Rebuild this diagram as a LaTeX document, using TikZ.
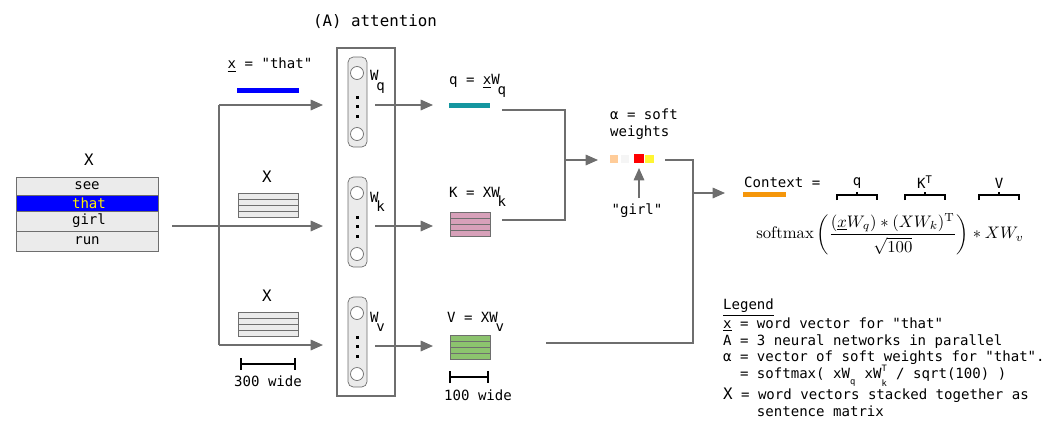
\documentclass[tikz,border=0pt]{standalone}
\usepackage{fontspec}
\usepackage{amsmath}
\setmonofont{DejaVu Sans Mono}
\usetikzlibrary{arrows.meta,calc}
\definecolor{lineg}{RGB}{110,110,110}
\definecolor{rowg}{RGB}{235,235,235}
\definecolor{qteal}{RGB}{20,150,160}
\definecolor{kpink}{RGB}{215,160,185}
\definecolor{vgreen}{RGB}{140,195,110}
\definecolor{ctxor}{RGB}{245,150,10}
\tikzset{
  conn/.style={draw=lineg, thick},
  arr/.style={conn, -{Triangle[length=7pt,width=6pt]}},
  lbl/.style={font=\ttfamily\footnotesize, inner sep=1pt},
  scalebar/.style={very thick, {Bar[width=7pt]}-{Bar[width=7pt]}},
}
\newcommand{\stackmat}[3]{% x, y top, fill
  \foreach \r in {0,1,2,3}
    \draw[lineg, fill=#3] (#1, #2+\r*6) rectangle ++(40, 6);
}
\newcommand{\lowsub}[1]{$_{\!\raisebox{-1ex}{\ttfamily\footnotesize #1}}$}
\begin{document}
\begin{tikzpicture}[x=0.02cm, y=-0.02cm]
\useasboundingbox (0,0) rectangle (1050,447);

% sentence matrix
\node[lbl, font=\ttfamily\small] (Xlab) at (89,160) {X};
\draw[lineg, fill=rowg] (16,177) rectangle (158,195);
\draw[lineg, fill=blue] (16,195) rectangle (158,211);
\draw[lineg, fill=rowg] (16,211) rectangle (158,231);
\draw[lineg, fill=rowg] (16,231) rectangle (158,251);
\node[lbl] (see) at (87,186) {see};
\node[lbl, text=yellow] (that) at (89,203) {that};
\node[lbl] (girl) at (89,221) {girl};
\node[lbl] (run) at (87,241) {run};

% attention block
\node[lbl, font=\ttfamily\small] (title) at (375,22) {(A) attention};
\draw[lineg, thick] (337,48) rectangle (395,396);
\foreach \t/\n in {57/q,177/k,297/v} {
  \draw[lineg, fill=rowg, rounded corners=3pt] (348,\t) rectangle (367,\t+90);
  \draw[lineg, fill=white] (357,\t+16) circle (6.5);
  \draw[lineg, fill=white] (357,\t+77) circle (6.5);
  \foreach \d in {40,49,59} \fill (355.5,\t+\d-1.5) rectangle ++(3,3);
  \node[lbl, anchor=west] (W\n) at (368,\t+25) {W\lowsub{\n}};
}
\coordinate (inq) at (323,105);
\coordinate (ink) at (323,226);
\coordinate (inv) at (323,345);
\coordinate (outq) at (375,105);
\coordinate (outk) at (375,226);
\coordinate (outv) at (375,346);

% inputs
\node[lbl] (xthat) at (270,65) {\underline{x} = "that"};
\fill[blue] (237,88) rectangle (299,93);
\node[lbl, font=\ttfamily\small] (Xk) at (267,177) {X};
\node[lbl, font=\ttfamily\small] (Xv) at (267,296) {X};
\foreach \r in {0,1,2,3} {
  \draw[lineg, fill=rowg] (238,193+\r*6) rectangle ++(60,6);
  \draw[lineg, fill=rowg] (238,312+\r*6) rectangle ++(60,6);
}
\draw[scalebar] (240,364) -- (296,364);
\node[lbl] (w300) at (268,381) {300 wide};
\draw[arr] (172,226) -- (ink);
\draw[conn] (219,105) -- (219,345);
\draw[arr] (219,105) -- (inq);
\draw[arr] (219,345) -- (inv);

% outputs
\draw[arr] (outq) -- (433,105);
\draw[arr] (outk) -- (433,226);
\draw[arr] (outv) -- (433,346);
\node[lbl, anchor=west] (q) at (447,86) {q = \underline{x}W\lowsub{q}};
\fill[qteal] (449,103) rectangle (490,108);
\node[lbl, anchor=west] (K) at (447,197) {K = XW\lowsub{k}};
\stackmat{450}{212}{kpink}
\node[lbl, anchor=west] (V) at (445,322) {V = XW\lowsub{v}};
\stackmat{450}{335}{vgreen}
\draw[scalebar] (449,377) -- (489,377);
\node[lbl] (w100) at (478,395) {100 wide};

% soft weights
\draw[conn] (502,110) -- (565,110) -- (565,220) -- (502,220);
\draw[arr] (565,160) -- (598,160);
\node[lbl, anchor=west, align=left] (alpha) at (608,124) {α = soft\\weights};
\fill[orange!40] (610,155) rectangle (618,163);
\fill[gray!8] (621,155) rectangle (629,163);
\fill[red] (634,154) rectangle (644,163);
\fill[yellow!80] (645,155) rectangle (654,163);
\node[lbl] (girlq) at (637,211) {"girl"};
\draw[arr] (639,198) -- (639,168);
\draw[conn] (665,160) -- (693,160) -- (693,343) -- (546,343);
\draw[arr] (693,193) -- (725,193);

% context formula
\node[lbl, anchor=west] (ctx) at (742,182) {Context =};
\fill[ctxor] (743,192) rectangle (786,197);
\foreach \a/\b/\t in {837/877/q,905/945/K$^{\text{T}}$,979/1019/V} {
  \draw[thick] (\a,200) -- (\a,195) -- (\b,195) -- (\b,200);
  \draw[thick] ({(\a+\b)/2},195) -- ({(\a+\b)/2},192);
  \node[lbl, anchor=south] at ({(\a+\b)/2},191) {\t};
}
\node[scale=0.95] (formula) at (890,234) {$\mathrm{softmax}\left(\dfrac{(\underline{x}W_q)*(XW_k)^{\mathrm{T}}}{\sqrt{100}}\right)*XW_v$};

% legend
\node[lbl, anchor=north west, align=left] (legend) at (721,297) {%
\underline{Legend}\\
\underline{x} = word vector for "that"\\
A = 3 neural networks in parallel\\
α = vector of soft weights for "that".\\
\ \ = softmax( xW$_{\raisebox{-0.6ex}{\ttfamily\tiny q}}$ xW$_{\raisebox{-0.6ex}{\ttfamily\tiny k}}^{\raisebox{0.3ex}{\ttfamily\tiny T}}$ / sqrt(100) )\\
{\small X} = word vectors stacked together as\\
\ \ \ \ sentence matrix};
\end{tikzpicture}
\end{document}
